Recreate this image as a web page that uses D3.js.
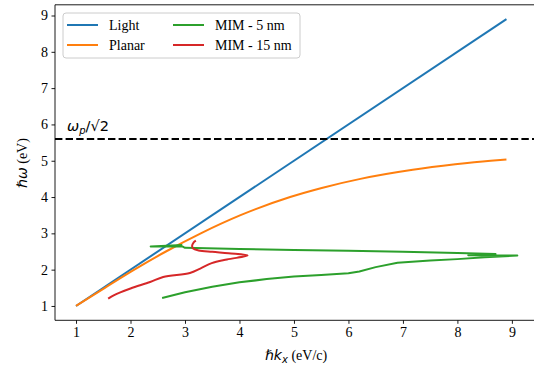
<!DOCTYPE html>
<html><head><meta charset="utf-8">
<script src="https://cdn.jsdelivr.net/npm/d3@7"></script>
<style>body{margin:0;background:#fff}svg{display:block}
.serif{font-family:"Liberation Serif","Times New Roman",Times,serif}
.math{font-family:"DejaVu Sans",sans-serif}
</style>
</head><body><svg id="c" width="534" height="367"></svg>
<script>
const xTicks = [1,2,3,4,5,6,7,8,9];
const yTicks = [1,2,3,4,5,6,7,8,9];
const lightK = [1, 8.9];
const lightW = [1, 8.9];
const planarK = [1.0, 1.53, 2.07, 2.65, 3.29, 4.02, 4.93, 5.51, 6.22, 7.18, 7.96, 8.61, 8.9];
const planarW = [1.0, 1.5, 2.0, 2.5, 3.0, 3.5, 4.0, 4.25, 4.5, 4.75, 4.9, 5.0, 5.035];
const mim5K = [2.58, 3.0, 3.5, 4.0, 4.5, 5.0, 5.5, 6.0, 6.2, 6.5, 6.9, 7.5, 8.0, 8.5, 9.1, 8.2, 8.7, 8.0, 7.0, 6.0, 5.0, 4.0, 3.0, 2.95, 2.37, 2.95];
const mim5W = [1.22, 1.38, 1.53, 1.65, 1.74, 1.81, 1.85, 1.90, 1.95, 2.07, 2.19, 2.25, 2.29, 2.34, 2.39, 2.40, 2.43, 2.46, 2.49, 2.52, 2.54, 2.57, 2.60, 2.64, 2.64, 2.68];
const mim15K = [1.59, 1.7, 2.0, 2.36, 2.6, 3.09, 3.28, 3.49, 3.77, 4.15, 3.8, 3.5, 3.25, 3.15, 3.13, 3.16, 3.2];
const mim15W = [1.2, 1.3, 1.48, 1.66, 1.8, 1.91, 2.03, 2.18, 2.28, 2.39, 2.45, 2.49, 2.53, 2.58, 2.65, 2.75, 2.80];
const plasmaLevel = 5.6;
const seriesNames = ["Light", "Planar", "MIM - 5 nm", "MIM - 15 nm"];
const seriesColors = ["#1f77b4", "#ff7f0e", "#2ca02c", "#d62728"];

const svg = d3.select("#c");
const L = 55, R = 539.4, T = 4.8, B = 320.3;
const x = d3.scaleLinear().domain([0.614, 9.505]).range([L, R]);
const y = d3.scaleLinear().domain([0.605, 9.295]).range([B, T]);

const series = [
  {k: lightK, w: lightW, c: d3.curveLinear},
  {k: planarK, w: planarW, c: d3.curveMonotoneX},
  {k: mim5K, w: mim5W, c: d3.curveLinear},
  {k: mim15K, w: mim15W, c: d3.curveCatmullRom.alpha(0.5)}
];
const g = svg.append("g");
series.forEach((s, i) => {
  const pts = s.k.map((k, j) => [k, s.w[j]]);
  const line = d3.line().x(d => x(d[0])).y(d => y(d[1])).curve(s.c);
  g.append("path").attr("d", line(pts)).attr("fill", "none")
    .attr("stroke", seriesColors[i]).attr("stroke-width", 2)
    .attr("stroke-linejoin", "round").attr("stroke-linecap", "butt");
});
// dashed line
g.append("line").attr("x1", L).attr("x2", R).attr("y1", y(plasmaLevel)).attr("y2", y(plasmaLevel))
  .attr("stroke", "#000").attr("stroke-width", 2).attr("stroke-dasharray", "7.4,3.2");
const lbl = svg.append("text").attr("class", "math").attr("x", 67).attr("y", 131).attr("font-size", 14.5);
lbl.append("tspan").attr("font-style", "italic").text("ω");
lbl.append("tspan").attr("font-style", "italic").attr("font-size", 10).attr("dy", 3).text("p");
lbl.append("tspan").attr("dy", -3).text("/√2");

// axes
const xAxis = d3.axisBottom(x).tickValues(xTicks).tickSize(3.5).tickPadding(3.5).tickFormat(d3.format("d"));
const yAxis = d3.axisLeft(y).tickValues(yTicks).tickSize(3.5).tickPadding(3.5).tickFormat(d3.format("d"));
const gx = svg.append("g").attr("transform", `translate(0,${B})`).call(xAxis);
const gy = svg.append("g").attr("transform", `translate(${L},0)`).call(yAxis);
[gx, gy].forEach(a => {
  a.attr("font-family", null);
  a.select(".domain").remove();
  a.selectAll("line").attr("stroke", "#000").attr("stroke-width", 0.9);
  a.selectAll("text").attr("class", "serif").attr("font-size", 14).attr("fill", "#000");
});
// spines
const sp = [[L, T, L, B], [L, B, R, B], [L, T, R, T], [R, T, R, B]];
sp.forEach(s => svg.append("line").attr("x1", s[0]).attr("y1", s[1]).attr("x2", s[2]).attr("y2", s[3])
  .attr("stroke", "#000").attr("stroke-width", 0.9));

// axis labels
const xl = svg.append("text").attr("x", 265).attr("y", 360).attr("font-size", 14);
xl.append("tspan").attr("class", "math").attr("font-style", "italic").text("ℏk");
xl.append("tspan").attr("class", "math").attr("font-style", "italic").attr("font-size", 10).attr("dy", 3).text("x");
xl.append("tspan").attr("class", "serif").attr("dy", -3).text(" (eV/c)");
const yl = svg.append("text").attr("transform", "translate(27,163) rotate(-90)").attr("text-anchor", "middle").attr("font-size", 14);
yl.append("tspan").attr("class", "math").attr("font-style", "italic").text("ℏω");
yl.append("tspan").attr("class", "serif").text(" (eV)");

// legend
const lg = svg.append("g");
lg.append("rect").attr("x", 63).attr("y", 13).attr("width", 237).attr("height", 45).attr("rx", 3)
  .attr("fill", "#fff").attr("fill-opacity", 0.8).attr("stroke", "#ccc").attr("stroke-width", 1);
const cols = [[67, 109], [173, 215]];
const rows = [25, 45];
seriesNames.forEach((n, i) => {
  const c = cols[Math.floor(i / 2)], r = rows[i % 2];
  lg.append("line").attr("x1", c[0]).attr("x2", c[0] + 31).attr("y1", r).attr("y2", r)
    .attr("stroke", seriesColors[i]).attr("stroke-width", 2);
  lg.append("text").attr("class", "serif").attr("x", c[1]).attr("y", r + 5).attr("font-size", 14).text(n);
});
</script></body></html>
